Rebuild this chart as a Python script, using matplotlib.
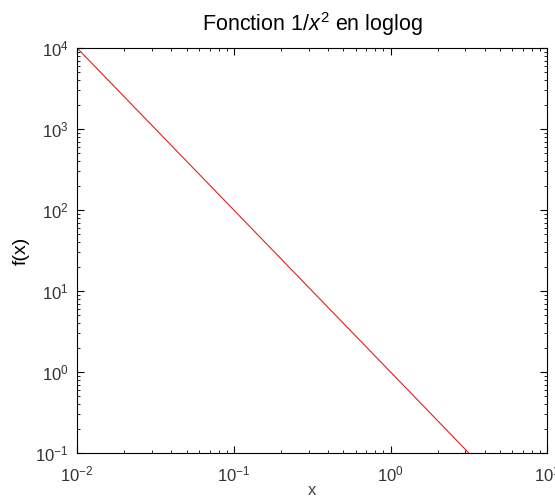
import matplotlib
matplotlib.use('Agg')
from matplotlib import pyplot as plt

plt.rcParams['font.family'] = ['Liberation Sans', 'DejaVu Sans']
plt.rcParams['mathtext.fontset'] = 'custom'
plt.rcParams['mathtext.rm'] = 'Liberation Sans'
plt.rcParams['mathtext.it'] = 'Liberation Sans:italic'

# values
x_vals = [0.01, 0.1, 1.0, 3.16]
fx_vals = [1e4, 1e2, 1.0, 0.1]

fig = plt.figure(figsize=(5.55, 5.03), dpi=100)
ax = fig.add_axes([0.139, 0.0994, 0.847, 0.805])

ax.loglog(x_vals, fx_vals, color='#e02020', linewidth=0.8)
ax.set_xlim(1e-2, 1e1)
ax.set_ylim(1e-1, 1e4)

ax.tick_params(which='both', direction='in', top=True, right=True,
               labelsize=12, labelcolor='#333333')
ax.tick_params(axis='x', pad=8)
ax.tick_params(axis='y', pad=6)
ax.tick_params(which='major', length=5)
ax.tick_params(which='minor', length=2.5)
for s in ax.spines.values():
    s.set_linewidth(0.8)

ax.set_title('Fonction 1/$x^2$ en loglog', fontsize=15.5, pad=12)
ax.set_xlabel('x', fontsize=12, color='#444444', labelpad=-1)
ax.set_ylabel('f(x)', fontsize=14)

plt.savefig('out.png', dpi=100)
